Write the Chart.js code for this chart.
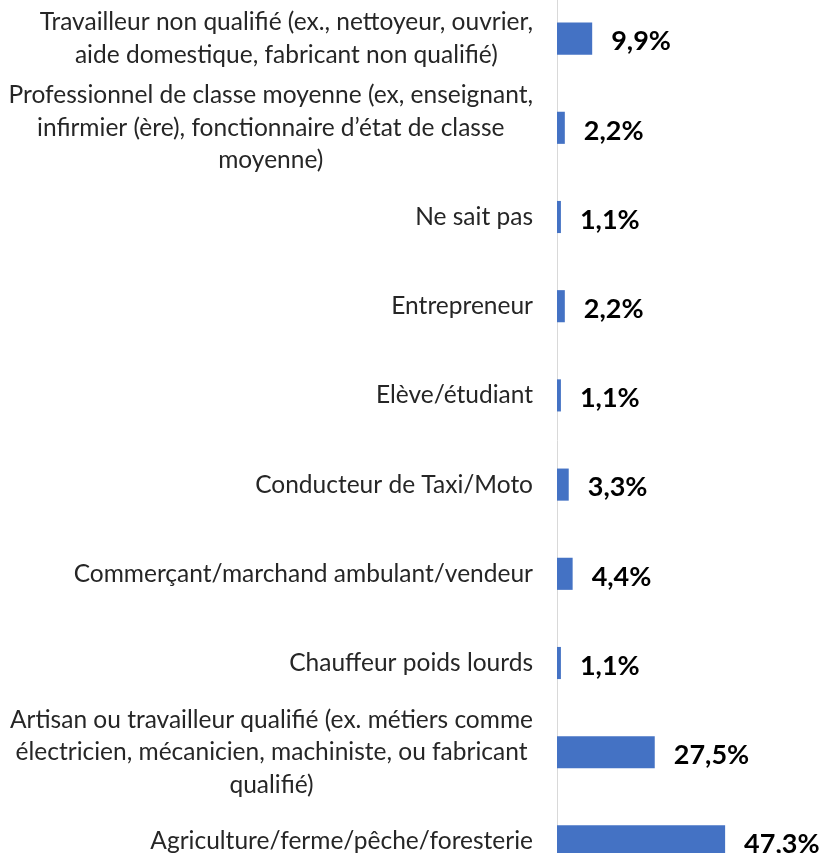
<!DOCTYPE html>
<html lang="fr">
<head>
    <meta charset="UTF-8">
    <title>Profession</title>
    <script src="https://cdn.jsdelivr.net/npm/chart.js"></script>
    <style>
        html, body {
            margin: 0;
            padding: 0;
            background: #fff;
            overflow: hidden;
        }
        .cadre {
            position: relative;
            width: 825px;
            height: 853px;
            overflow: hidden;
        }
        .graphe {
            position: absolute;
            left: 0;
            top: -6px;
            width: 825px;
            height: 892px;
        }
    </style>
</head>
<body>
<div class="cadre">
    <div class="graphe">
        <canvas id="professions"></canvas>
    </div>
</div>

<script>
// catégories (de haut en bas), chaque ligne du libellé séparée
const categories = [
  ['Travailleur non qualifié (ex., nettoyeur, ouvrier,', 'aide domestique, fabricant non qualifié)'],
  ['Professionnel de classe moyenne (ex, enseignant,', 'infirmier (ère), fonctionnaire d\u2019état de classe', 'moyenne)'],
  ['Ne sait pas'],
  ['Entrepreneur'],
  ['Elève/étudiant'],
  ['Conducteur de Taxi/Moto'],
  ['Commerçant/marchand ambulant/vendeur'],
  ['Chauffeur poids lourds'],
  ['Artisan ou travailleur qualifié (ex. métiers comme', 'électricien, mécanicien, machiniste, ou fabricant', 'qualifié)'],
  ['Agriculture/ferme/pêche/foresterie']
];
const pourcentages = [9.9, 2.2, 1.1, 2.2, 1.1, 3.3, 4.4, 1.1, 27.5, 47.3];

const fmt = v => v.toFixed(1).replace('.', ',') + '%';

// libellés de catégories : lignes centrées entre elles, bloc aligné à droite
const libelles = {
  id: 'libelles',
  afterDraw(chart) {
    const ctx = chart.ctx;
    const y = chart.scales.y;
    const droite = y.right - 24;
    ctx.save();
    ctx.font = '24.5px Lato';
    ctx.fillStyle = '#262626';
    ctx.textAlign = 'center';
    ctx.textBaseline = 'middle';
    chart.data.labels.forEach((lignes, i) => {
      const centre = y.getPixelForTick(i);
      const large = Math.max(...lignes.map(l => ctx.measureText(l).width));
      const cx = droite - large / 2;
      lignes.forEach((l, j) => {
        ctx.fillText(l, cx, centre + (j - (lignes.length - 1) / 2) * 32.5);
      });
    });
    ctx.restore();
  }
};

// valeurs en gras à droite des barres
const valeurs = {
  id: 'valeurs',
  afterDatasetsDraw(chart) {
    const ctx = chart.ctx;
    ctx.save();
    ctx.font = 'bold 27px Lato';
    ctx.fillStyle = '#000';
    ctx.textAlign = 'left';
    ctx.textBaseline = 'middle';
    chart.getDatasetMeta(0).data.forEach((bar, i) => {
      ctx.fillText(fmt(pourcentages[i]), bar.x + 19, bar.y + 3);
    });
    ctx.restore();
  }
};

new Chart(document.getElementById('professions'), {
  type: 'bar',
  data: {
    labels: categories,
    datasets: [{
      data: pourcentages,
      backgroundColor: '#4472c4',
      categoryPercentage: 1,
      barPercentage: 0.36
    }]
  },
  options: {
    indexAxis: 'y',
    responsive: true,
    maintainAspectRatio: false,
    animation: false,
    layout: { padding: 0 },
    plugins: {
      legend: { display: false },
      tooltip: { enabled: false }
    },
    scales: {
      x: {
        display: false,
        min: 0,
        max: 75.4
      },
      y: {
        grid: { display: false },
        border: { display: true, color: '#d9d9d9', width: 1 },
        ticks: { display: false },
        afterFit(scale) { scale.width = 557; }
      }
    }
  },
  plugins: [libelles, valeurs]
});
</script>
</body>
</html>
